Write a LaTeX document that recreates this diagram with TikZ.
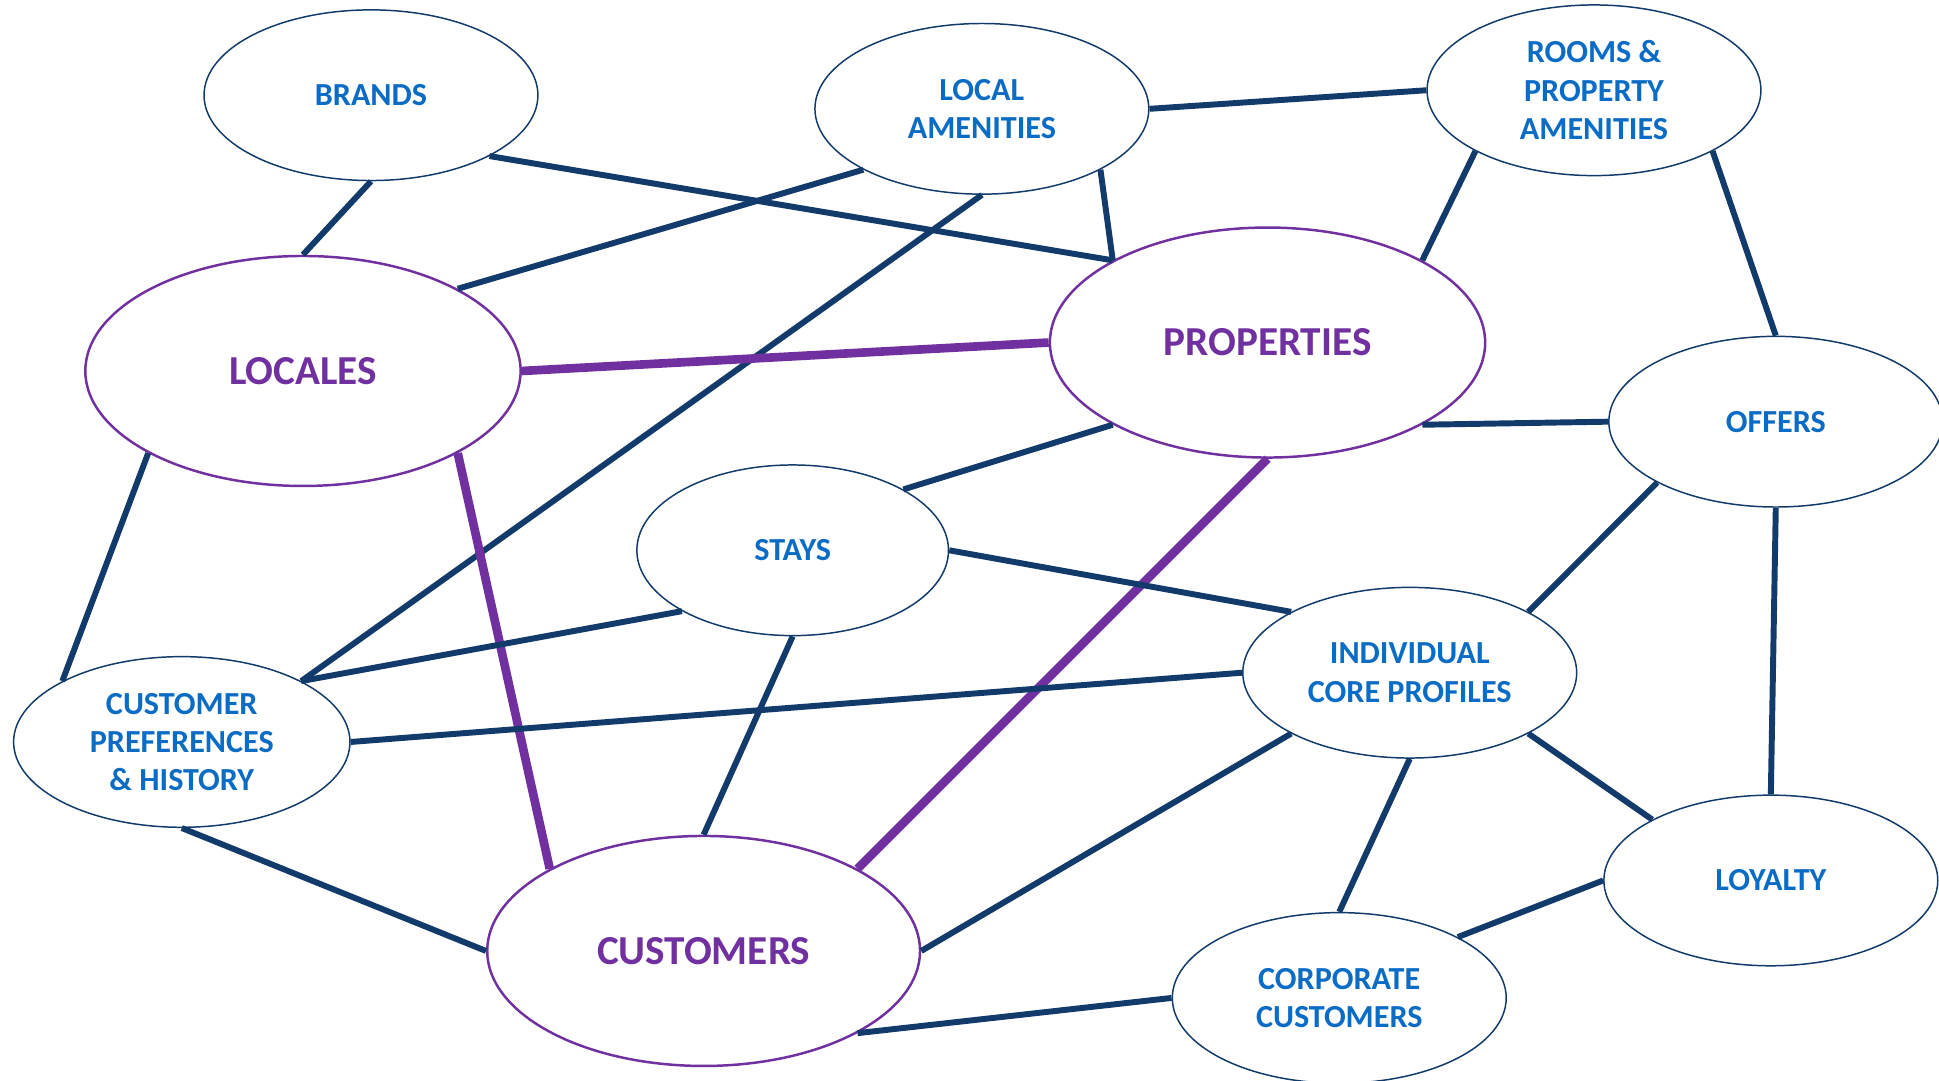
\documentclass[tikz,border=0pt]{standalone}
\usepackage{fontspec}
\setmainfont{Carlito}
\usetikzlibrary{shapes.geometric}
\definecolor{navy}{HTML}{123B6B}
\definecolor{txtblue}{HTML}{0B6CC6}
\definecolor{purp}{HTML}{7030A0}
\begin{document}
\begin{tikzpicture}[x=1pt,y=-1pt,
  bnode/.style={ellipse, draw=navy, line width=1.2pt, fill=white, inner sep=0pt,
    minimum width=270pt, minimum height=138pt, text=txtblue,
    font=\fontsize{26}{31}\selectfont\bfseries, align=center},
  pnode/.style={ellipse, draw=purp, line width=2pt, fill=white, inner sep=0pt,
    minimum width=352pt, minimum height=186pt, text=purp,
    font=\fontsize{33.3}{40}\selectfont\bfseries, align=center},
  link/.style={draw=navy, line width=4.8pt},
  plink/.style={draw=purp, line width=7pt}]
\useasboundingbox (0,0) rectangle (1568,874);

\node[bnode] (brands) at (300,77) {BRANDS};
\node[bnode] (local) at (794,88) {LOCAL\\AMENITIES};
\node[bnode] (rooms) at (1289,73) {ROOMS \&\\PROPERTY\\AMENITIES};
\node[pnode] (locales) at (245,300) {LOCALES};
\node[pnode] (props) at (1025,277) {PROPERTIES};
\node[bnode] (offers) at (1436,341) {OFFERS};
\node[bnode, minimum width=252pt] (stays) at (641,445) {STAYS};
\node[bnode] (indiv) at (1140,544) {INDIVIDUAL\\CORE PROFILES};
\node[bnode, minimum width=272pt] (pref) at (147,600) {CUSTOMER\\PREFERENCES\\\& HISTORY};
\node[bnode] (loyalty) at (1432,712) {LOYALTY};
\node[pnode, minimum width=350pt] (cust) at (569,769) {CUSTOMERS};
\node[bnode] (corp) at (1083,807) {CORPORATE\\CUSTOMERS};

\draw[link] (brands.south) -- (locales.north);
\draw[link] (brands.south east) -- (props.north west);
\draw[link] (local.south west) -- (locales.north east);
\draw[link] (local.south) -- (pref.north east);
\draw[link] (local.south east) -- (props.north west);
\draw[link] (local.east) -- (rooms.west);
\draw[link] (rooms.south west) -- (props.north east);
\draw[link] (rooms.south east) -- (offers.north);
\draw[plink] (locales.east) -- (props.west);
\draw[plink] (locales.south east) -- (cust.north west);
\draw[link] (locales.south west) -- (pref.north west);
\draw[plink] (props.south) -- (cust.north east);
\draw[link] (props.south west) -- (stays.north east);
\draw[link] (props.south east) -- (offers.west);
\draw[link] (stays.south west) -- (pref.north east);
\draw[link] (stays.east) -- (indiv.north west);
\draw[link] (stays.south) -- (cust.north);
\draw[link] (pref.east) -- (indiv.west);
\draw[link] (pref.south) -- (cust.west);
\draw[link] (offers.south west) -- (indiv.north east);
\draw[link] (offers.south) -- (loyalty.north);
\draw[link] (indiv.south west) -- (cust.east);
\draw[link] (indiv.south) -- (corp.north);
\draw[link] (indiv.south east) -- (loyalty.north west);
\draw[link] (loyalty.west) -- (corp.north east);
\draw[link] (corp.west) -- (cust.south east);
\end{tikzpicture}
\end{document}
